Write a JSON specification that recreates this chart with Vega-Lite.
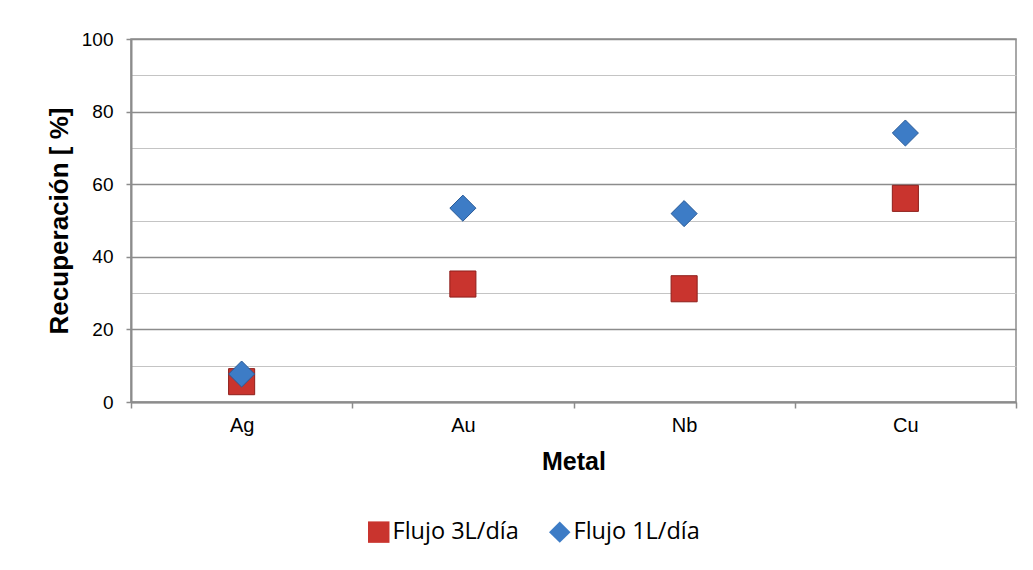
{
  "$schema": "https://vega.github.io/schema/vega-lite/v6.json",
  "autosize": "none",
  "width": 885,
  "height": 363,
  "padding": {"left": 131, "top": 39, "right": 17, "bottom": 168},
  "background": "white",
  "config": {
    "font": "Liberation Sans",
    "view": {"stroke": "#8c8c8c", "strokeWidth": 1.5}
  },
  "data": {
    "values": [
      {"metal": "Ag", "serie": "Flujo 3L/día", "rec": 5.6},
      {"metal": "Au", "serie": "Flujo 3L/día", "rec": 32.5},
      {"metal": "Nb", "serie": "Flujo 3L/día", "rec": 31.2},
      {"metal": "Cu", "serie": "Flujo 3L/día", "rec": 56.1},
      {"metal": "Ag", "serie": "Flujo 1L/día", "rec": 7.7},
      {"metal": "Au", "serie": "Flujo 1L/día", "rec": 53.4},
      {"metal": "Nb", "serie": "Flujo 1L/día", "rec": 51.9},
      {"metal": "Cu", "serie": "Flujo 1L/día", "rec": 74.1}
    ]
  },
  "mark": {"type": "point", "filled": true, "opacity": 1, "strokeWidth": 1, "size": 680},
  "encoding": {
    "x": {
      "field": "metal",
      "type": "nominal",
      "sort": ["Ag", "Au", "Nb", "Cu"],
      "scale": {"paddingInner": 0, "paddingOuter": 0},
      "axis": {
        "title": "Metal",
        "titleFontSize": 25,
        "titleFontWeight": "bold",
        "titleColor": "black",
        "titlePadding": 14,
        "labelAngle": 0,
        "labelFontSize": 20,
        "labelColor": "black",
        "labelPadding": 7,
        "tickBand": "extent",
        "tickSize": 6,
        "tickColor": "#8c8c8c",
        "tickWidth": 1.5,
        "domainColor": "#8c8c8c",
        "domainWidth": 2,
        "grid": false
      }
    },
    "y": {
      "field": "rec",
      "type": "quantitative",
      "scale": {"domain": [0, 100], "nice": false},
      "axis": {
        "title": "Recuperación [ %]",
        "titleFontSize": 26,
        "titleFontWeight": "bold",
        "titleColor": "black",
        "titlePadding": 9,
        "values": [0, 10, 20, 30, 40, 50, 60, 70, 80, 90, 100],
        "labelExpr": "datum.value % 20 === 0 ? datum.label : ''",
        "labelFontSize": 19,
        "labelColor": "black",
        "labelPadding": 13,
        "tickSize": 5,
        "tickWidth": 1.5,
        "tickColor": {"condition": {"test": "datum.value % 20 === 0", "value": "#8c8c8c"}, "value": "transparent"},
        "domainColor": "#8c8c8c",
        "domainWidth": 2,
        "grid": true,
        "gridColor": {"condition": {"test": "datum.value % 20 === 0", "value": "#8c8c8c"}, "value": "#c4c4c4"},
        "gridWidth": {"condition": {"test": "datum.value % 20 === 0", "value": 1.5}, "value": 1.2}
      }
    },
    "color": {
      "field": "serie",
      "type": "nominal",
      "sort": ["Flujo 3L/día", "Flujo 1L/día"],
      "scale": {"domain": ["Flujo 3L/día", "Flujo 1L/día"], "range": ["#c9342e", "#3d7cc6"]},
      "legend": {
        "title": null,
        "orient": "none",
        "direction": "horizontal",
        "legendX": 236,
        "legendY": 481,
        "labelFont": "Open Sans",
        "labelFontSize": 23.5,
        "labelColor": "black",
        "symbolSize": 460,
        "symbolStrokeWidth": 0,
        "columnPadding": 29,
        "labelOffset": 2
      }
    },
    "shape": {
      "field": "serie",
      "type": "nominal",
      "sort": ["Flujo 3L/día", "Flujo 1L/día"],
      "scale": {"domain": ["Flujo 3L/día", "Flujo 1L/día"], "range": ["square", "diamond"]}
    },
    "stroke": {
      "field": "serie",
      "type": "nominal",
      "scale": {"domain": ["Flujo 3L/día", "Flujo 1L/día"], "range": ["#8e1f1b", "#2a5b98"]},
      "legend": null
    },
    "order": {"field": "serie", "sort": "descending"}
  }
}
